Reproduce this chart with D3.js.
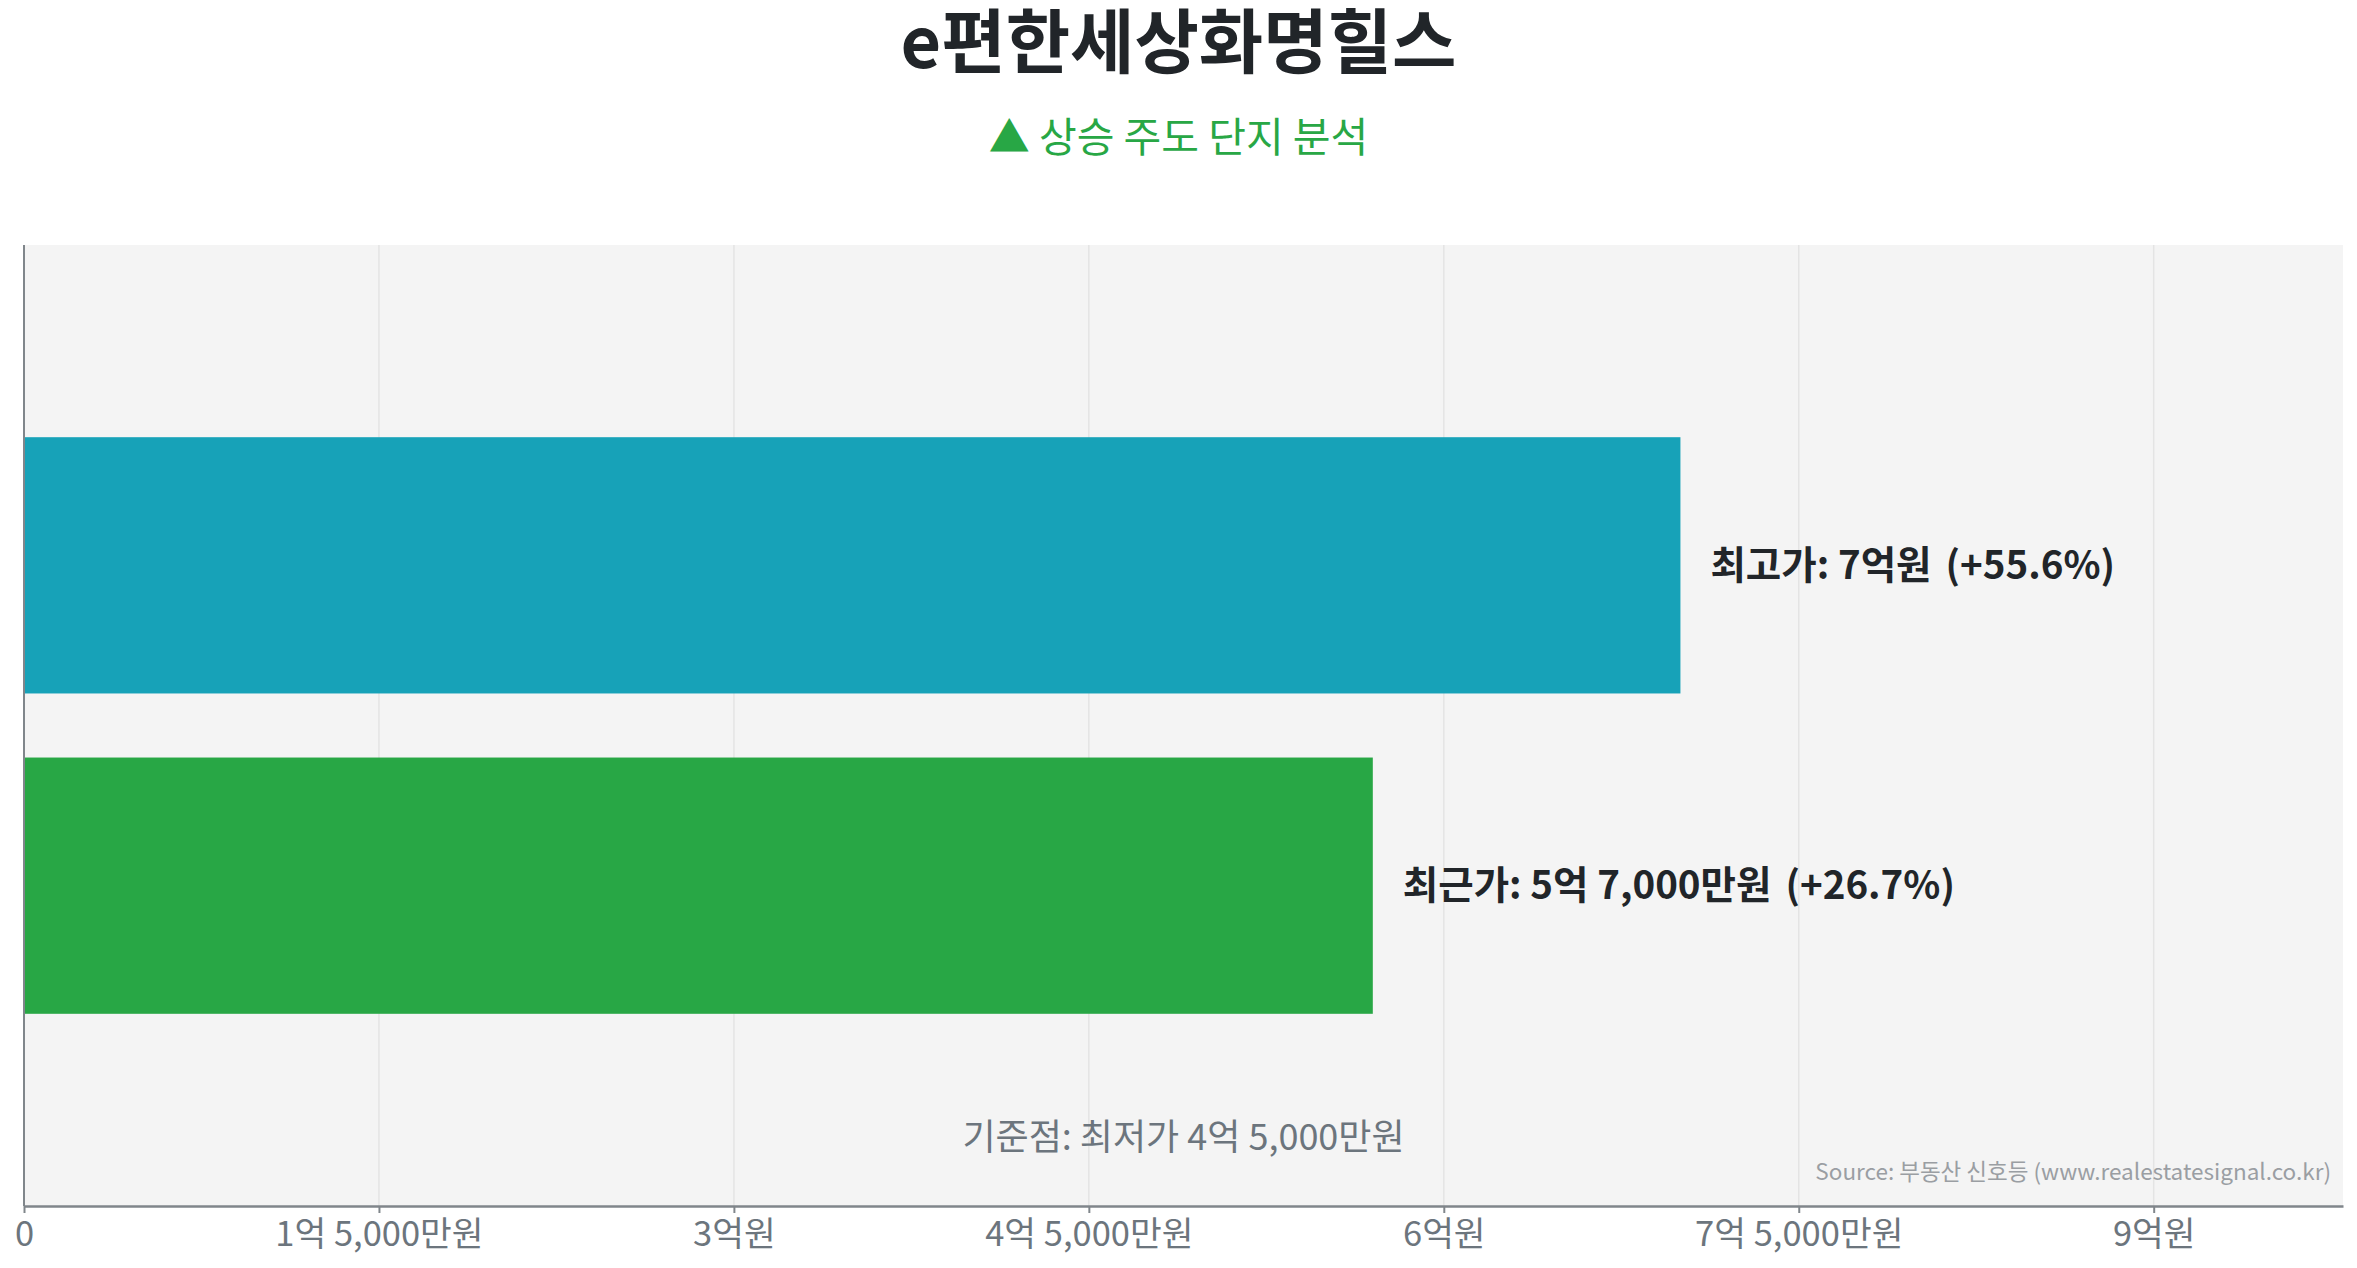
<!DOCTYPE html>
<html>
<head>
<meta charset="utf-8">
<script src="https://cdn.jsdelivr.net/npm/d3@7"></script>
<style>
  body { margin: 0; background: #ffffff; }
  svg text { font-family: "Noto Sans CJK KR", "Noto Sans", sans-serif; }
</style>
</head>
<body>
<svg id="chart" width="2357" height="1268"></svg>
<script>
// data (unit: 억원)
const categories = ["최고가", "최근가"];
const values = [7, 5.7];
const valueLabels = ["7억원", "5억 7,000만원"];
const changeLabels = ["(+55.6%)", "(+26.7%)"];
const tickValues = [0, 1.5, 3, 4.5, 6, 7.5, 9];
const tickLabels = ["0", "1억 5,000만원", "3억원", "4억 5,000만원", "6억원", "7억 5,000만원", "9억원"];
const baseLabel = "기준점: 최저가 4억 5,000만원";

//List of colors
const color = ["#17a2b8", "#28a745"];

const svg = d3.select("#chart");
const W = 2357, H = 1268;
const margin = {top: 245, right: 14, bottom: 62, left: 24};
const width = W - margin.left - margin.right,
      height = H - margin.top - margin.bottom;

// title + subtitle
svg.append("text")
    .attr("x", W / 2).attr("y", 68)
    .attr("text-anchor", "middle")
    .attr("font-size", 70).attr("font-weight", 700)
    .attr("fill", "#212529")
    .text("e편한세상화명힐스");

svg.append("text")
    .attr("x", W / 2).attr("y", 152)
    .attr("text-anchor", "middle")
    .attr("font-size", 41)
    .attr("fill", "#28a745")
    .text("▲ 상승 주도 단지 분석");

const g = svg.append("g").attr("transform", `translate(${margin.left},${margin.top})`);

// plot background
g.append("rect").attr("width", width).attr("height", height).attr("fill", "#f4f4f4");

const xScale = d3.scaleLinear().domain([0, 7 * 1.4]).range([0, width]);
const yScale = d3.scaleBand().domain(categories).range([0, height])
    .paddingInner(0.2).paddingOuter(0.6);

// grid lines
g.append("g").selectAll("line")
    .data(tickValues.slice(1))
    .join("line")
    .attr("x1", d => xScale(d)).attr("x2", d => xScale(d))
    .attr("y1", 0).attr("y2", height)
    .attr("stroke", "#e4e4e4").attr("stroke-width", 1.5);

// bars
g.selectAll("rect.bar")
    .data(categories)
    .join("rect")
    .attr("class", "bar")
    .attr("x", 0)
    .attr("y", d => yScale(d))
    .attr("width", (d, i) => xScale(values[i]))
    .attr("height", yScale.bandwidth())
    .attr("fill", (d, i) => color[i]);

// value labels
const lbl = g.selectAll("text.lbl")
    .data(categories)
    .join("text")
    .attr("class", "lbl")
    .attr("x", (d, i) => xScale(values[i]) + 30)
    .attr("y", d => yScale(d) + yScale.bandwidth() / 2)
    .attr("dy", "0.35em")
    .attr("font-size", 38.5).attr("font-weight", 700)
    .attr("fill", "#212529");
lbl.append("tspan").text((d, i) => d + ": " + valueLabels[i]);
lbl.append("tspan").attr("dx", 14).text((d, i) => changeLabels[i]);

// base reference text
g.append("text")
    .attr("x", width / 2).attr("y", height - 56)
    .attr("text-anchor", "middle")
    .attr("font-size", 36)
    .attr("fill", "#6c757d")
    .text(baseLabel);

// source
g.append("text")
    .attr("x", width - 12).attr("y", height - 26)
    .attr("text-anchor", "end")
    .attr("font-size", 22.5)
    .attr("fill", "#9a9ea3")
    .text("Source: 부동산 신호등 (www.realestatesignal.co.kr)");

// y axis line
g.append("line")
    .attr("x1", 0).attr("x2", 0).attr("y1", 0).attr("y2", height)
    .attr("stroke", "#80868b").attr("stroke-width", 2);

// x axis
const xAxis = g.append("g")
    .attr("transform", `translate(0,${height})`)
    .call(d3.axisBottom(xScale)
        .tickValues(tickValues)
        .tickFormat((d, i) => tickLabels[i])
        .tickSize(7).tickPadding(8).tickSizeOuter(0));
xAxis.select(".domain").attr("stroke", "#80868b").attr("stroke-width", 2.5);
xAxis.selectAll(".tick line").attr("stroke", "#80868b").attr("stroke-width", 2);
xAxis.selectAll(".tick text")
    .attr("font-size", 34.5)
    .attr("font-family", "'Noto Sans CJK KR', sans-serif")
    .attr("fill", "#6c757d");
</script>
</body>
</html>
